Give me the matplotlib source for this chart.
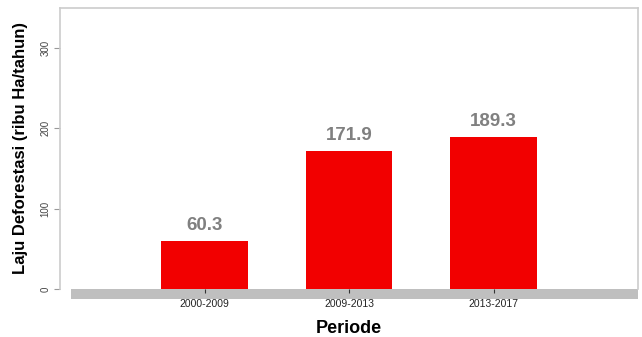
import matplotlib.pyplot as plt
from matplotlib.patches import Rectangle

plt.rcParams['font.family'] = ['Liberation Sans', 'DejaVu Sans']

periods = ['2000-2009', '2009-2013', '2013-2017']
rates = [60.3, 171.9, 189.3]
yticks = [0, 100, 200, 300]

fig = plt.figure(figsize=(6.42, 3.37), dpi=100)
ax = fig.add_axes([60 / 642, 48 / 337, 578 / 642, 281 / 337])

x = [1, 2, 3]
ax.bar(x, rates, width=0.6, color='#f20000', zorder=2)
for xi, v in zip(x, rates):
    ax.annotate('{:.1f}'.format(v), (xi, v), xytext=(0, 5), textcoords='offset points',
                ha='center', va='bottom', fontsize=13.5, fontweight='bold', color='#808080')

ax.set_xlim(0, 4)
ax.set_ylim(0, 350)
ax.set_xticks(x)
ax.set_xticklabels(periods, fontsize=7.5, color='#222222')
ax.set_yticks(yticks)
ax.set_yticklabels([str(t) for t in yticks], rotation=90, va='center', fontsize=7, color='#444444')
ax.tick_params(axis='x', length=3, width=0.8, color='#333333', pad=4)
ax.tick_params(axis='y', length=4, width=0.8, color='#999999', pad=3)

for s in ax.spines.values():
    s.set_color('#cccccc')
    s.set_linewidth(1.2)
ax.spines['bottom'].set_visible(False)

# gray floor band under the bars
ax.add_patch(Rectangle((11 / 578, -10 / 281), 1 - 11 / 578, 10 / 281, transform=ax.transAxes,
                       facecolor='#bfbfbf', edgecolor='none', clip_on=False, zorder=1))

ax.set_xlabel('Periode', fontsize=13, fontweight='bold', labelpad=8)
ax.set_ylabel('Laju Deforestasi (ribu Ha/tahun)', fontsize=12, fontweight='bold', labelpad=9)

fig.savefig('out.png', dpi=100)
